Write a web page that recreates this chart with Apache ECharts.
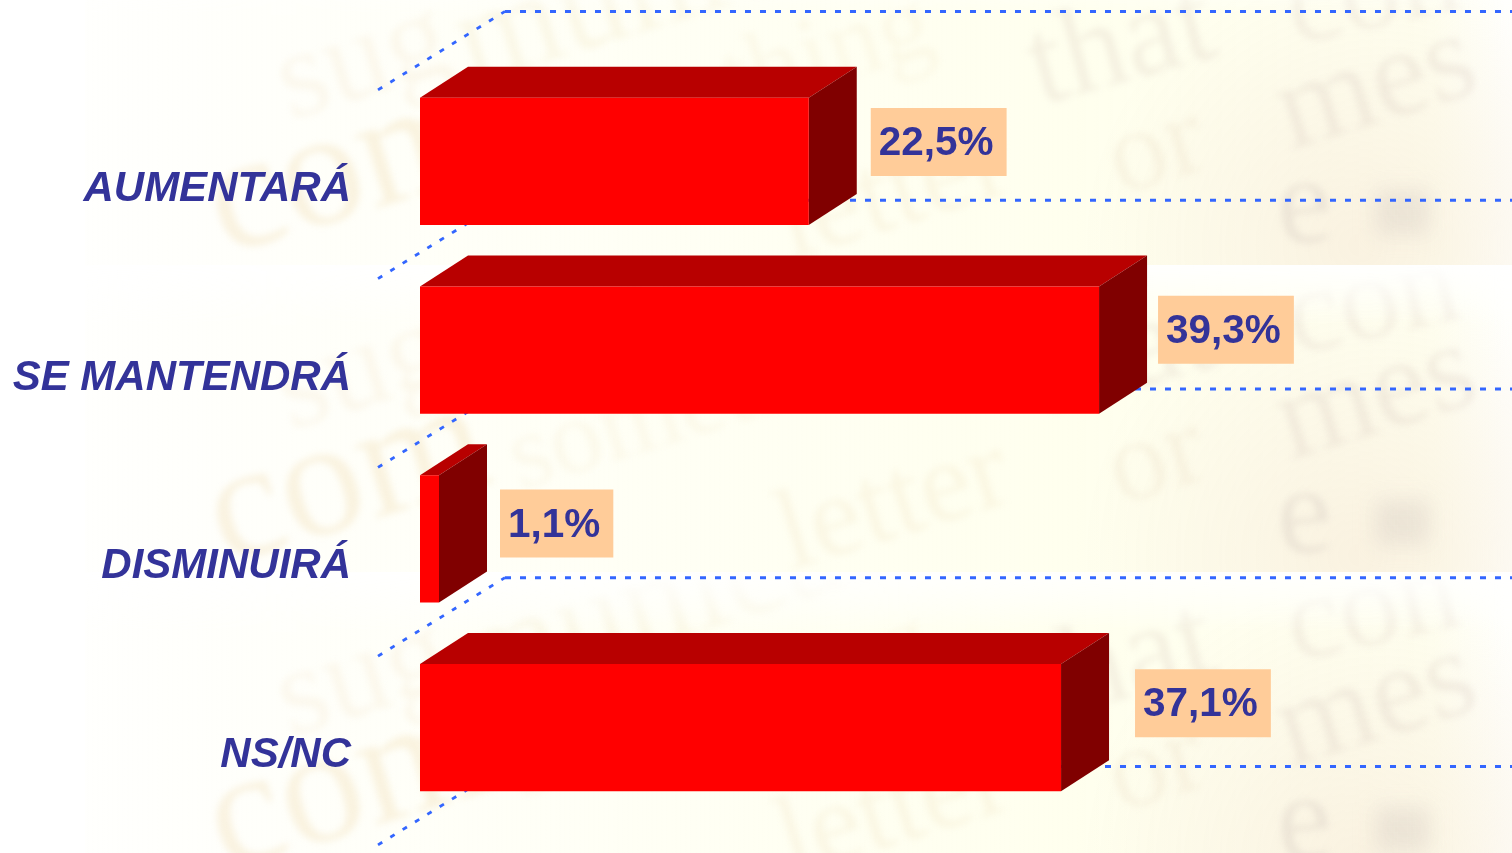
<!DOCTYPE html>
<html><head><meta charset="utf-8">
<style>html,body{margin:0;padding:0;background:#fff}#c{width:1512px;height:853px}</style>
<script src="https://cdn.jsdelivr.net/npm/echarts@6/dist/echarts.min.js"></script>
</head><body><div id="c"></div>
<script>
const categories = ['AUMENTARÁ', 'SE MANTENDRÁ', 'DISMINUIRÁ', 'NS/NC'];
const values = [22.5, 39.3, 1.1, 37.1];
const labelTexts = ['22,5%', '39,3%', '1,1%', '37,1%'];
// hand placement of the value boxes, as in the reference (px from bar end / band centre)
const labelDx = [62, 59, 61, 74];
const labelDy = [-53.5, -54.5, -49.5, -58.5];

function backdrop() {
  const tile = document.createElement('canvas');
  tile.width = 1512; tile.height = 310;
  const t = tile.getContext('2d');
  const g = t.createLinearGradient(85, 0, 1505, 0);
  g.addColorStop(0, 'rgba(255,255,236,.1)'); g.addColorStop(.22, 'rgba(255,255,236,.35)');
  g.addColorStop(.7, 'rgba(255,255,236,.9)'); g.addColorStop(.95, 'rgba(255,255,236,.8)');
  g.addColorStop(1, 'rgba(255,255,236,.15)');
  t.fillStyle = g; t.fillRect(85, 0, 1427, 310);
  const tan = t.createRadialGradient(1360, 290, 10, 1360, 290, 280);
  tan.addColorStop(0, 'rgba(248,238,220,.75)'); tan.addColorStop(1, 'rgba(248,238,220,0)');
  t.fillStyle = tan; t.fillRect(85, 0, 1427, 310);
  t.filter = 'blur(3.5px)';
  const words = [
    ['sug', 290, 165, 125, .30, 'rgba(240,225,190,.22)'], ['com', 225, 300, 165, .30, 'rgba(240,215,165,.30)'],
    ['municat', 470, 130, 135, .30, 'rgba(240,225,185,.24)'], ['that', 1040, 150, 125, .27, 'rgba(220,205,190,.28)'],
    ['con', 1295, 90, 120, .22, 'rgba(220,205,195,.26)'], ['mes', 1290, 195, 125, .30, 'rgba(215,200,190,.28)'],
    ['or', 1120, 240, 115, .30, 'rgba(235,220,195,.28)'], ['letter', 790, 305, 115, .30, 'rgba(240,225,190,.26)'],
    ['something', 520, 225, 105, .30, 'rgba(240,225,190,.2)'], ['e', 1280, 290, 125, .10, 'rgba(215,205,195,.38)']
  ];
  words.forEach(w => {
    t.save(); t.translate(w[1], w[2]); t.rotate(-w[4]); t.fillStyle = w[5];
    t.font = w[3] + 'px "Liberation Serif"'; t.fillText(w[0], 0, 0); t.restore();
  });
  t.filter = 'blur(10px)'; t.fillStyle = 'rgba(215,205,195,.4)';
  t.fillRect(1375, 235, 55, 45);
  t.filter = 'none';
  t.globalCompositeOperation = 'destination-in';
  const v = t.createLinearGradient(0, 0, 0, 60);
  v.addColorStop(0, 'rgba(0,0,0,.05)'); v.addColorStop(1, 'rgba(0,0,0,1)');
  t.fillStyle = v; t.fillRect(0, 0, 1512, 310);
  const out = document.createElement('canvas');
  out.width = 1512; out.height = 853;
  const o = out.getContext('2d');
  o.drawImage(tile, 0, 0, 1512, 310, 0, -45, 1512, 310);
  o.drawImage(tile, 0, 0, 1512, 307, 0, 265, 1512, 307);
  o.drawImage(tile, 0, 0, 1512, 281, 0, 572, 1512, 281);
  return out;
}

const chart = echarts.init(document.getElementById('c'), null, {renderer: 'canvas'});

function renderGrid(params, api) {
  const c = api.coord([0, api.value(1)]);
  const band = api.size([0, 1])[1];
  const right = params.coordSys.x + params.coordSys.width;
  const y = c[1] + (api.value(2) ? band : 0);
  return {type: 'group', children: [
    {type: 'line', shape: {x1: 505, y1: y - 150, x2: right, y2: y - 150},
     style: {stroke: '#3366ff', fill: null, lineWidth: 3, lineDash: [6, 9]}},
    {type: 'line', shape: {x1: 378, y1: y - 71.5, x2: 505, y2: y - 150},
     style: {stroke: '#3366ff', fill: null, lineWidth: 2.8, lineDash: [5, 9.5]}}
  ]};
}

function renderBar(params, api) {
  const i = params.dataIndex;
  const start = api.coord([0, api.value(1)]);
  const end = api.coord([api.value(0), api.value(1)]);
  const h = api.size([0, 1])[1] * 0.673;
  const dx = 48, dy = -31;
  const x0 = start[0], x1 = end[0], y0 = start[1] - h / 2, y1 = start[1] + h / 2;
  return {type: 'group', children: [
    {type: 'polygon', shape: {points: [[x0, y0], [x1, y0], [x1 + dx, y0 + dy], [x0 + dx, y0 + dy]]}, style: {fill: '#b80000'}},
    {type: 'polygon', shape: {points: [[x1, y0], [x1 + dx, y0 + dy], [x1 + dx, y1 + dy], [x1, y1]]}, style: {fill: '#800000'}},
    {type: 'rect', shape: {x: x0, y: y0, width: x1 - x0, height: h}, style: {fill: '#ff0000'}},
    {type: 'text', x: x1 + labelDx[i], y: start[1] + labelDy[i], style: {
      text: labelTexts[i], fill: '#333399', font: 'bold 40.5px "Liberation Sans"',
      backgroundColor: '#ffcc99', padding: [13, 13, 9, 8], lineHeight: 46,
      align: 'left', verticalAlign: 'top'}}
  ]};
}

chart.setOption({
  animation: false,
  backgroundColor: 'transparent',
  graphic: [{type: 'image', z: -10, silent: true, x: 0, y: 0,
    style: {image: backdrop(), x: 0, y: 0, width: 1512, height: 853}}],
  grid: {left: 420, right: 0, top: 67, height: 755},
  xAxis: {type: 'value', min: 0, max: 63.2, show: false},
  yAxis: {type: 'category', inverse: true, data: categories,
    axisLine: {show: false}, axisTick: {show: false}, splitLine: {show: false},
    axisLabel: {margin: 69, color: '#333399', fontFamily: 'Liberation Sans', fontSize: 42,
      fontStyle: 'italic', fontWeight: 'bold', verticalAlign: 'top', padding: [7, 0, 0, 0]}},
  series: [
    {type: 'custom', z: 1, silent: true, renderItem: renderGrid,
     encode: {x: -1, y: 1},
     data: categories.map((c, i) => [0, i, 0]).concat([[0, categories.length - 1, 1]])},
    {type: 'custom', z: 2, silent: true, renderItem: renderBar,
     encode: {x: 0, y: 1},
     data: values.map((v, i) => [v, i])}
  ]
});
</script></body></html>
